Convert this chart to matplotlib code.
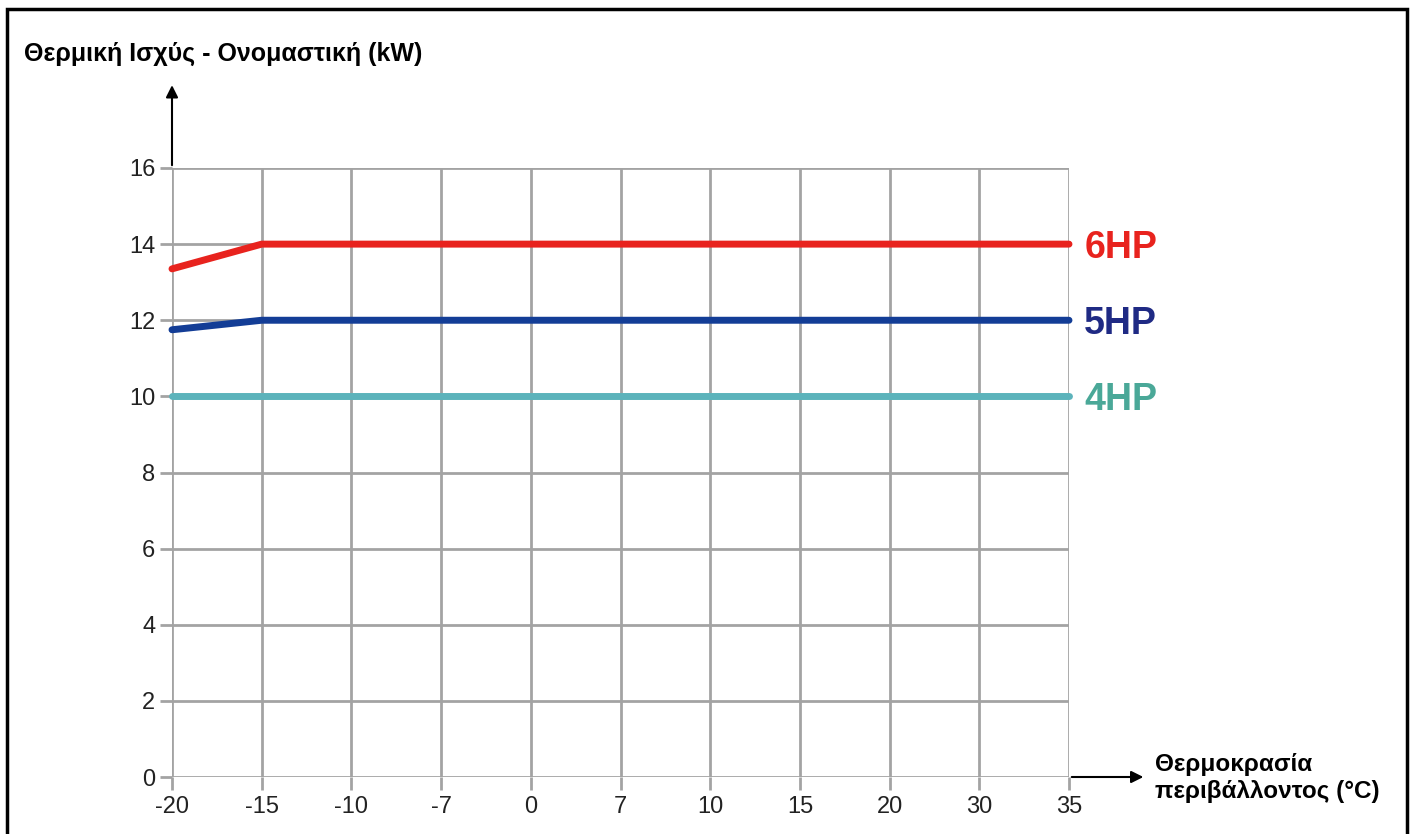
import numpy as np
import matplotlib.pyplot as plt
from matplotlib.patches import Rectangle

plt.rcParams['font.family'] = ['Liberation Sans', 'DejaVu Sans']

# data
temps = ['-20', '-15', '-10', '-7', '0', '7', '10', '15', '20', '30', '35']
hp6 = [13.35, 14, 14, 14, 14, 14, 14, 14, 14, 14, 14]
hp5 = [11.75, 12, 12, 12, 12, 12, 12, 12, 12, 12, 12]
hp4 = [10, 10, 10, 10, 10, 10, 10, 10, 10, 10, 10]
yticks = [0, 2, 4, 6, 8, 10, 12, 14, 16]

W, H = 1411, 834
fig = plt.figure(figsize=(W / 100, H / 100), dpi=100)
ax = fig.add_axes([172 / W, 1 - 777 / H, (1069 - 172) / W, (777 - 168) / H])

x = np.arange(len(temps))
grid_col = '#a3a3a3'

ax.set_xlim(0, len(temps) - 1)
ax.set_ylim(0, 16)
ax.set_xticks(x)
ax.set_xticklabels(temps)
ax.set_yticks(yticks)
ax.grid(True, color=grid_col, linewidth=2)
for s in ax.spines.values():
    s.set_visible(False)
ax.tick_params(axis='both', colors=grid_col, width=2, length=9, labelcolor='#222222',
               labelsize=17)
ax.tick_params(axis='x', pad=5)
ax.tick_params(axis='y', pad=3)

# curves
ax.plot(x, hp6, color='#e8231e', lw=5, solid_capstyle='round', clip_on=False, zorder=3)
ax.plot(x, hp5, color='#133d96', lw=5, solid_capstyle='round', clip_on=False, zorder=3)
ax.plot(x, hp4, color='#5cb3bb', lw=5, solid_capstyle='round', clip_on=False, zorder=3)

# curve labels at the right end
ax.text(10.17, hp6[-1] - 0.1, '6HP', color='#e8231e', fontsize=27, fontweight='bold', va='center')
ax.text(10.17, hp5[-1] - 0.1, '5HP', color='#1f2a84', fontsize=27, fontweight='bold', va='center')
ax.text(10.17, hp4[-1] - 0.1, '4HP', color='#4aa898', fontsize=27, fontweight='bold', va='center')

# axis arrows
ax.annotate('', xy=(0, 18.25), xytext=(0, 16), annotation_clip=False,
            arrowprops=dict(arrowstyle='-|>', color='black', lw=1.5, mutation_scale=18))
ax.annotate('', xy=(10.86, 0), xytext=(10, 0), annotation_clip=False,
            arrowprops=dict(arrowstyle='-|>', color='black', lw=1.5, mutation_scale=18))

fig.text(24 / W, 1 - 54 / H, 'Θερμική Ισχύς - Ονομαστική (kW)', fontsize=18,
         fontweight='bold', va='center', ha='left')
fig.text(1155 / W, 1 - 778 / H, 'Θερμοκρασία\nπεριβάλλοντος (°C)', fontsize=17.5,
         fontweight='bold', va='center', ha='left', linespacing=1.2)

# frame
fig.patches.append(Rectangle((7 / W, -0.05), (1407 - 7) / W, 1.05 - 9 / H,
                             transform=fig.transFigure, fill=False,
                             edgecolor='black', linewidth=2.5))

fig.savefig('out.png', dpi=100)
